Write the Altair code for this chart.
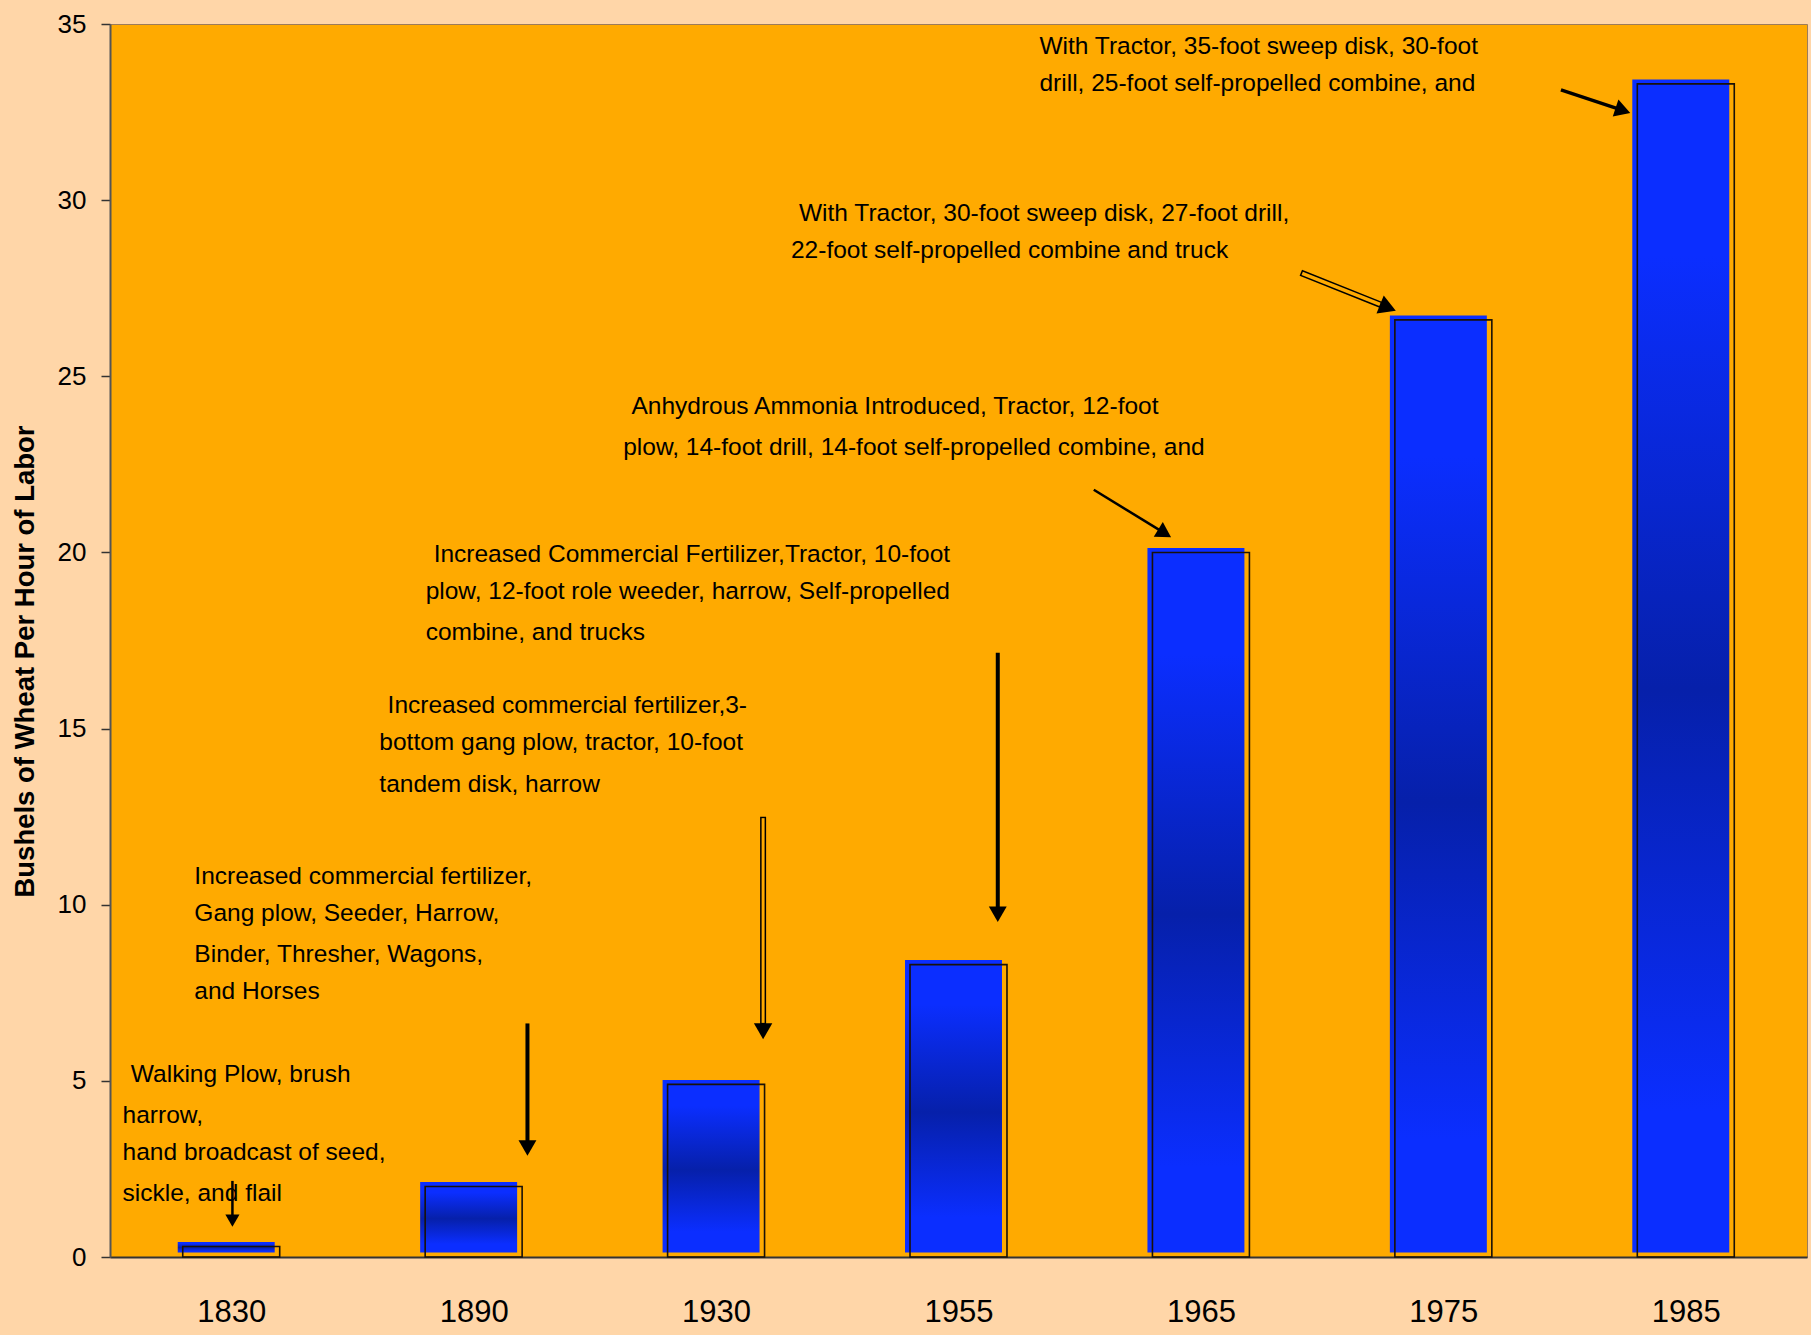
import math
import altair as alt
import pandas as pd

# ---------------- data ----------------
years = ["1830", "1890", "1930", "1955", "1965", "1975", "1985"]
bushels = [0.3, 2.0, 4.9, 8.3, 20.0, 26.6, 33.3]

note_text = [
    "Walking Plow, brush", "harrow,", "hand broadcast of seed,", "sickle, and flail",
    "Increased commercial fertilizer,", "Gang plow, Seeder,  Harrow,", "Binder,  Thresher, Wagons,", "and Horses",
    "Increased commercial fertilizer,3-", "bottom gang plow, tractor, 10-foot", "tandem disk, harrow",
    "Increased Commercial Fertilizer,Tractor, 10-foot", "plow, 12-foot role weeder, harrow, Self-propelled", "combine, and trucks",
    "Anhydrous Ammonia Introduced, Tractor, 12-foot", "plow, 14-foot drill, 14-foot self-propelled combine,  and",
    "With Tractor, 30-foot sweep disk, 27-foot drill,", "22-foot self-propelled combine and truck",
    "With Tractor, 35-foot sweep disk, 30-foot", "drill, 25-foot self-propelled combine, and",
]
note_x = [0.086, 0.052, 0.052, 0.052,
          0.348, 0.348, 0.348, 0.348,
          1.145, 1.111, 1.111,
          1.335, 1.302, 1.302,
          2.151, 2.117,
          2.842, 2.809,
          3.834, 3.834]
note_y = [5.18, 4.00, 2.95, 1.80,
          10.79, 9.74, 8.56, 7.51,
          15.64, 14.59, 13.41,
          19.94, 18.89, 17.71,
          24.14, 22.96,
          29.62, 28.57,
          34.34, 33.29]

# arrows: start (x1, y1) -> tip (x2, y2), in band units / data units
arrow_x1 = [0.505, 1.722, 2.694, 3.662, 4.058, 4.912, 5.985]
arrow_y1 = [2.16, 6.63, 12.50, 17.15, 21.78, 27.94, 33.13]
arrow_x2 = [0.505, 1.722, 2.694, 3.662, 4.368, 5.293, 6.261]
arrow_y2 = [0.92, 2.95, 6.26, 9.58, 20.47, 26.89, 32.50]
arrow_hollow = [False, False, True, False, False, True, False]
arrow_width = [2.5, 4.0, 6.0, 4.0, 2.5, 6.5, 3.5]
arrow_head = [200, 320, 340, 320, 300, 380, 320]

# ---------------- layout ----------------
W, H = 1697, 1233
BAND = W / 7.0
UNIT = H / 35.0
FONT = "Liberation Sans, Arial, sans-serif"

bars = pd.DataFrame({
    "year": years,
    "start": [i + 0.3 for i in range(7)],
    "end": [i + 0.7 for i in range(7)],
    "value": bushels,
    "zero": [0.0] * 7,
})

notes = pd.DataFrame({"text": note_text, "x": note_x, "y": note_y})

rows_shaft, rows_inner, rows_head = [], [], []
for x1, y1, x2, y2, hol, w, hs in zip(arrow_x1, arrow_y1, arrow_x2, arrow_y2,
                                      arrow_hollow, arrow_width, arrow_head):
    dx = (x2 - x1) * BAND
    dy = -(y2 - y1) * UNIT          # screen, down positive
    L = math.hypot(dx, dy)
    ux, uy = dx / L, dy / L
    ang = math.degrees(math.atan2(dx, -dy)) % 360
    h = 0.866 * math.sqrt(hs)       # triangle height in px
    cx = x2 - ux * (h / 2) / BAND
    cy = y2 + uy * (h / 2) / UNIT
    sx = x2 - ux * (h * 0.6) / BAND
    sy = y2 + uy * (h * 0.6) / UNIT
    rows_shaft.append({"x1": x1, "y1": y1, "x2": sx, "y2": sy, "w": w})
    if hol:
        rows_inner.append({"x1": x1 + ux * 1.5 / BAND, "y1": y1 - uy * 1.5 / UNIT,
                           "x2": sx - ux * 4 / BAND, "y2": sy + uy * 4 / UNIT, "w": w - 3.0})
    rows_head.append({"x": cx, "y": cy, "ang": ang, "s": hs})

shafts = pd.DataFrame(rows_shaft)
inners = pd.DataFrame(rows_inner)
heads = pd.DataFrame(rows_head)

xs = alt.Scale(domain=[0, 7], nice=False, zero=False)
ys = alt.Scale(domain=[0, 35], nice=False, zero=True)

label_expr = "[" + ",".join("'%s'" % y for y in years) + "][floor(datum.value)]"

x_axis = alt.Axis(values=[i + 0.5 for i in range(7)], labelExpr=label_expr, title=None,
                  grid=False, ticks=False, domainColor="#333333", domainWidth=2,
                  labelFont=FONT, labelFontSize=31, labelColor="black",
                  labelPadding=40, labelAngle=0)
y_axis = alt.Axis(values=list(range(0, 36, 5)), title="Bushels of Wheat Per Hour of Labor",
                  grid=False, ticks=True, tickSize=9, tickColor="#333333", tickWidth=1.5,
                  domainColor="#555555", domainWidth=2,
                  labelFont=FONT, labelFontSize=26, labelColor="black", labelPadding=15,
                  titleFont="Liberation Sans", titleFontSize=27.5, titleFontWeight="bold",
                  titleColor="black", titleAngle=270, titleX=-85, titleY=637,
                  titleAlign="center", titleBaseline="middle")

grad = alt.Gradient(
    gradient="linear", x1=0, x2=0, y1=0, y2=1,
    stops=[
        alt.GradientStop(color="#0b2eff", offset=0.0),
        alt.GradientStop(color="#0b2eff", offset=0.15),
        alt.GradientStop(color="#0620aa", offset=0.52),
        alt.GradientStop(color="#0b2eff", offset=0.88),
        alt.GradientStop(color="#0b2eff", offset=1.0),
    ],
)

blue = alt.Chart(bars).mark_bar(
    color=grad, xOffset=-5, x2Offset=-5, yOffset=-4.5, y2Offset=-4.5
).encode(
    x=alt.X("start:Q", scale=xs, axis=x_axis),
    x2="end:Q",
    y=alt.Y("value:Q", scale=ys, axis=y_axis),
    y2="zero:Q",
)

outline = alt.Chart(bars).mark_bar(
    fillOpacity=0, stroke="#1a1208", strokeWidth=1.6
).encode(
    x=alt.X("start:Q", scale=xs), x2="end:Q",
    y=alt.Y("value:Q", scale=ys), y2="zero:Q",
)

text = alt.Chart(notes).mark_text(
    align="left", baseline="middle", font=FONT, fontSize=24.5, color="black"
).encode(
    x=alt.X("x:Q", scale=xs), y=alt.Y("y:Q", scale=ys), text="text:N"
)

shaft = alt.Chart(shafts).mark_rule(color="black", strokeCap="butt").encode(
    x=alt.X("x1:Q", scale=xs), y=alt.Y("y1:Q", scale=ys),
    x2="x2:Q", y2="y2:Q",
    strokeWidth=alt.StrokeWidth("w:Q", scale=None),
)

inner = alt.Chart(inners).mark_rule(color="#FFAA00", strokeCap="butt").encode(
    x=alt.X("x1:Q", scale=xs), y=alt.Y("y1:Q", scale=ys),
    x2="x2:Q", y2="y2:Q",
    strokeWidth=alt.StrokeWidth("w:Q", scale=None),
)

head = alt.Chart(heads).mark_point(
    shape="triangle", filled=True, color="black", opacity=1
).encode(
    x=alt.X("x:Q", scale=xs), y=alt.Y("y:Q", scale=ys),
    angle=alt.Angle("ang:Q", scale=None),
    size=alt.Size("s:Q", scale=None),
)

chart = alt.layer(blue, outline, shaft, inner, head, text).properties(
    width=W, height=H,
    autosize=alt.AutoSizeParams(type="none"),
    padding={"left": 110, "top": 24, "right": 4, "bottom": 78},
    background="#FFD6A8",
).configure_view(
    fill="#FFAA00", stroke="#9c7c5a", strokeWidth=1
)

chart.save("out.html", embed_options={"renderer": "svg", "actions": False})
